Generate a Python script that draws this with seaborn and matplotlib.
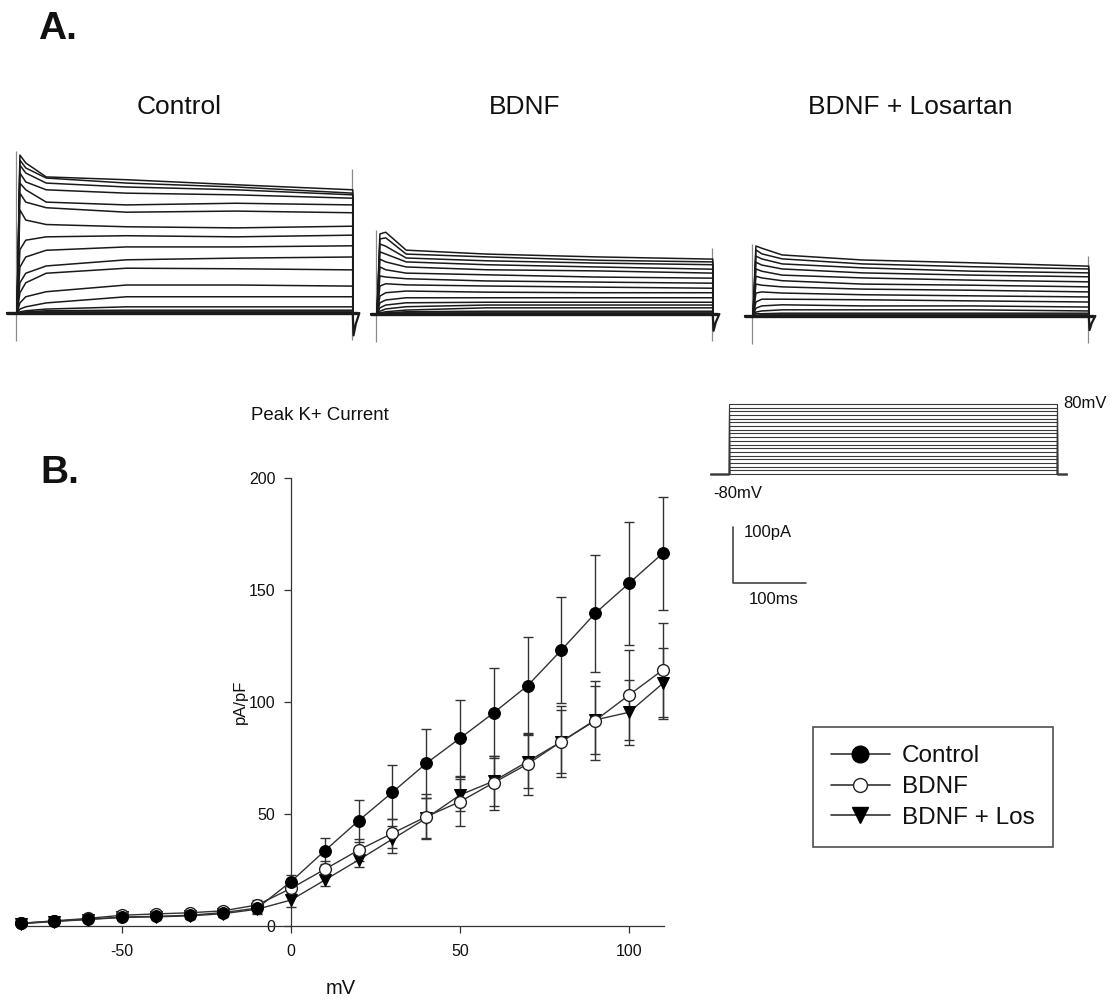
import numpy as np
import pandas as pd
import matplotlib
matplotlib.use("Agg")
import matplotlib.pyplot as plt
import seaborn as sns
from matplotlib.lines import Line2D

sns.set_theme(style="ticks")
plt.rcParams['font.family'] = ['Liberation Sans', 'DejaVu Sans']
plt.rcParams['axes.unicode_minus'] = False

# ---------------- data ----------------
mv = [-80, -70, -60, -50, -40, -30, -20, -10, 0, 10, 20, 30, 40, 50, 60, 70, 80, 90, 100, 110]
control = [1.2, 2.2, 3.0, 4.0, 4.3, 4.8, 6.0, 8.0, 19.8, 33.6, 47.0, 59.7, 72.6, 83.8, 95.2, 107.3, 123.2, 139.6, 153.0, 166.4]
control_err = [0.5, 0.5, 0.7, 0.8, 1.0, 1.2, 1.5, 2.0, 3.0, 5.8, 9.3, 12.0, 15.4, 17.0, 20.0, 21.8, 23.7, 26.0, 27.5, 25.3]
bdnf = [1.2, 2.3, 3.4, 4.8, 5.4, 5.9, 6.8, 9.4, 16.8, 25.3, 33.9, 41.4, 48.8, 55.5, 64.0, 72.3, 82.3, 91.7, 103.1, 114.3]
bdnf_err = [0.5, 0.6, 0.8, 1.0, 1.2, 1.4, 1.8, 2.2, 3.0, 3.5, 5.0, 6.5, 10.0, 11.0, 12.0, 14.0, 16.0, 17.5, 20.0, 21.0]
los = [1.0, 2.0, 2.9, 3.8, 4.1, 4.5, 5.5, 7.5, 11.6, 20.5, 29.5, 38.8, 48.1, 58.5, 64.7, 73.4, 82.3, 92.0, 95.4, 108.3]
los_err = [0.4, 0.5, 0.6, 0.8, 1.0, 1.2, 1.5, 2.0, 3.0, 2.5, 3.0, 6.0, 9.0, 7.0, 11.0, 12.0, 14.0, 15.0, 14.6, 15.7]
labels = ["Control", "BDNF", "BDNF + Los"]

# current traces (pA) sampled at these times (ms); one row per voltage step, largest first
trace_t = [0, 4, 12, 40, 150, 300, 460]
control_traces = [
    [0, 282, 268, 243, 238, 229, 220],
    [0, 273, 259, 241, 232, 225, 214],
    [0, 264, 250, 232, 225, 220, 211],
    [0, 250, 234, 220, 214, 211, 205],
    [0, 232, 220, 198, 193, 196, 193],
    [0, 214, 198, 188, 180, 182, 179],
    [0, 184, 166, 158, 154, 152, 155],
    [0, 113, 130, 136, 138, 136, 139],
    [0, 82, 100, 112, 118, 118, 120],
    [0, 54, 71, 84, 95, 98, 100],
    [0, 36, 54, 71, 80, 79, 77],
    [0, 18, 29, 38, 50, 50, 48],
    [0, 7, 11, 18, 29, 29, 29],
    [0, 2, 4, 7, 11, 11, 11],
    [0, 0, 2, 4, 5, 5, 5],
    [0, 0, 1, 2, 2, 2, 2],
    [0, 0, 0, 1, 1, 1, 1],
    [0, 0, 0, 0, 0, 0, 0],
    [0, 0, 0, -1, -1, -1, -1],
    [0, 0, 0, -1, -1, -1, -1],
]
bdnf_traces = [
    [0, 143, 146, 114, 107, 102, 98],
    [0, 134, 136, 107, 102, 96, 93],
    [0, 125, 121, 100, 95, 91, 88],
    [0, 111, 107, 93, 88, 84, 80],
    [0, 98, 93, 84, 79, 77, 73],
    [0, 84, 79, 73, 70, 66, 64],
    [0, 68, 66, 63, 59, 57, 55],
    [0, 50, 54, 52, 50, 48, 46],
    [0, 32, 38, 41, 39, 38, 38],
    [0, 20, 25, 29, 29, 29, 29],
    [0, 11, 16, 20, 21, 21, 21],
    [0, 5, 9, 13, 16, 16, 16],
    [0, 2, 4, 7, 11, 11, 11],
    [0, 0, 2, 4, 5, 5, 5],
    [0, 0, 1, 2, 2, 2, 2],
    [0, 0, 0, 1, 1, 1, 1],
    [0, 0, 0, 0, 0, 0, 0],
    [0, 0, 0, 0, 0, 0, 0],
    [0, 0, 0, -1, -1, -1, -1],
    [0, 0, 0, -1, -1, -1, -1],
]
los_traces = [
    [0, 125, 121, 109, 100, 95, 89],
    [0, 118, 111, 102, 93, 88, 84],
    [0, 107, 102, 93, 86, 80, 77],
    [0, 96, 91, 84, 77, 73, 70],
    [0, 84, 80, 73, 68, 64, 61],
    [0, 71, 68, 63, 57, 55, 52],
    [0, 57, 55, 52, 48, 46, 43],
    [0, 41, 43, 41, 38, 36, 34],
    [0, 25, 30, 30, 29, 27, 25],
    [0, 14, 18, 20, 18, 18, 16],
    [0, 7, 9, 11, 11, 11, 9],
    [0, 4, 4, 5, 5, 5, 5],
    [0, 1, 2, 2, 2, 2, 2],
    [0, 0, 1, 1, 1, 1, 1],
    [0, 0, 0, 0, 0, 0, 0],
    [0, 0, 0, 0, 0, 0, 0],
    [0, 0, 0, 0, 0, 0, 0],
    [0, 0, 0, -1, -1, -1, -1],
    [0, 0, 0, -1, -1, -1, -1],
    [0, 0, 0, -1, -1, -1, -1],
]
panel_titles = ["Control", "BDNF", "BDNF + Losartan"]

# voltage protocol
pulse_ms = 450
hold_mv = -80

# scale bar (ms, pA)
scale_t = [0, 0, 100]
scale_i = [100, 0, 0]

# ---------------- figure ----------------
W, H = 1113, 1000
fig = plt.figure(figsize=(W / 100, H / 100), dpi=100)

def px_axes(left, top, width, height):
    ax = fig.add_axes([left / W, 1 - (top + height) / H, width / W, height / H])
    return ax

def ftext(x, y, s, **kw):
    fig.text(x / W, 1 - y / H, s, **kw)

TRACE_COL = "#1a1a1a"
PX_MS = 0.73   # pixels per ms
PX_PA = 0.56   # pixels per pA

def trace_panel(x0, y0, traces, base_start, lead_top, tail_depth):
    xl, xr = -20, 472
    yb, yt = -70, 300
    ax = px_axes(x0 + xl * PX_MS, y0 - yt * PX_PA, (xr - xl) * PX_MS, (yt - yb) * PX_PA)
    rows = []
    for k, tr in enumerate(traces):
        tt = [base_start] + trace_t + [trace_t[-1] + 0.5, 466]
        ii = [0] + list(tr) + [0, 0]
        for a, b in zip(tt, ii):
            rows.append((k, a, b))
    df = pd.DataFrame(rows, columns=["trace", "t", "I"])
    ax.vlines([-1.0], [-50], [lead_top], color="#8a8a8a", lw=0.9)
    ax.vlines([trace_t[-1] - 1], [-48], [max(r[-1] for r in traces) * 1.15 + 5], color="#8a8a8a", lw=0.9)
    sns.lineplot(data=df, x="t", y="I", units="trace", estimator=None, sort=False,
                 color=TRACE_COL, lw=1.1, ax=ax, legend=False)
    tail = pd.DataFrame({"t": [trace_t[-1], trace_t[-1] + 1, trace_t[-1] + 4, trace_t[-1] + 9],
                         "I": [0, -tail_depth, -tail_depth * 0.5, 0]})
    sns.lineplot(data=tail, x="t", y="I", sort=False, estimator=None, color=TRACE_COL, lw=1.6, ax=ax)
    ax.plot([base_start, 466], [0, 0], color=TRACE_COL, lw=2.4)
    ax.set_xlim(xl, xr)
    ax.set_ylim(yb, yt)
    ax.axis("off")
    return ax

trace_panel(17, 313, control_traces, -14, 290, 40)
trace_panel(377, 314, bdnf_traces, -8, 150, 30)
trace_panel(753, 316, los_traces, -11, 128, 25)

for cx, t in zip([179.5, 525, 910], panel_titles):
    ftext(cx, 107, t, ha="center", va="center", fontsize=19, color="#111")

ftext(38, 29, "A.", ha="left", va="center", fontsize=28, fontweight="bold", color="#111")
ftext(40, 473, "B.", ha="left", va="center", fontsize=28, fontweight="bold", color="#111")
ftext(251, 416, "Peak K+ Current", ha="left", va="center", fontsize=13.4, color="#111")

# ---------------- voltage protocol ----------------
px_ms_p = 328 / pulse_ms
px_mv = 70 / (mv[-1] - mv[0])
pxl, pxr = -30, 470
pyb, pyt = -90, 120
axp = px_axes(729 + pxl * px_ms_p, 404 - (pyt - mv[-1]) * px_mv, (pxr - pxl) * px_ms_p, (pyt - pyb) * px_mv)
prow = []
for k, v in enumerate(mv):
    for a, b in zip([-26, 0, 0, pulse_ms, pulse_ms, 464], [hold_mv, hold_mv, v, v, hold_mv, hold_mv]):
        prow.append((k, a, b))
pdf = pd.DataFrame(prow, columns=["step", "t", "V"])
sns.lineplot(data=pdf, x="t", y="V", units="step", estimator=None, sort=False,
             color="#3a3a3a", lw=0.8, ax=axp, legend=False)
axp.set_xlim(pxl, pxr)
axp.set_ylim(pyb, pyt)
axp.axis("off")
ftext(1063, 403, "80mV", ha="left", va="center", fontsize=12, color="#111")
ftext(713, 493, "-80mV", ha="left", va="center", fontsize=12, color="#111")

# ---------------- scale bar ----------------
axs = px_axes(733 - 10 * PX_MS, 583 - 110 * PX_PA, 120 * PX_MS, 120 * PX_PA)
sb = pd.DataFrame({"t": scale_t, "I": scale_i})
sns.lineplot(data=sb, x="t", y="I", sort=False, estimator=None, color="#444", lw=1.2, ax=axs)
axs.set_xlim(-10, 110)
axs.set_ylim(-10, 110)
axs.axis("off")
ftext(744, 533, "100pA", ha="left", va="center", fontsize=12, color="#111")
ftext(749, 600, "100ms", ha="left", va="center", fontsize=12, color="#111")

# ---------------- IV plot ----------------
x_left_px, x0_px, x100_px = 18, 291, 629
pxmv = (x100_px - x0_px) / 100
xlim = (-(x0_px - x_left_px) / pxmv, 110.5)
ax = px_axes(x_left_px, 478, (xlim[1] - xlim[0]) * pxmv, 448)

iv = pd.DataFrame({
    "mV": mv * 3,
    "pApF": control + bdnf + los,
    "err": control_err + bdnf_err + los_err,
    "group": [labels[0]] * len(mv) + [labels[1]] * len(mv) + [labels[2]] * len(mv),
})
styles = {
    labels[0]: dict(marker="o", markerfacecolor="black", markeredgecolor="black", markersize=8.5),
    labels[1]: dict(marker="o", markerfacecolor="white", markeredgecolor="#222", markersize=8.5, markeredgewidth=1.0),
    labels[2]: dict(marker="v", markerfacecolor="black", markeredgecolor="black", markersize=9),
}
LINE_COL = "#333333"
for g in [labels[2], labels[1], labels[0]]:
    sub = iv[iv["group"] == g]
    ax.errorbar(sub["mV"], sub["pApF"], yerr=sub["err"], fmt="none", ecolor=LINE_COL,
                elinewidth=1.0, capsize=3.3, capthick=1.0, clip_on=False, zorder=2)
for g in [labels[2], labels[1], labels[0]]:
    sub = iv[iv["group"] == g]
    sns.lineplot(data=sub, x="mV", y="pApF", color=LINE_COL, lw=1.0, ax=ax,
                 clip_on=False, zorder=3, **styles[g])

ax.set_xlim(*xlim)
ax.set_ylim(0, 200)
ax.spines["left"].set_position(("data", 0))
ax.spines["right"].set_visible(False)
ax.spines["top"].set_visible(False)
for s in ["left", "bottom"]:
    ax.spines[s].set_color("#333")
    ax.spines[s].set_linewidth(0.9)
ax.set_xticks([-50, 0, 50, 100])
ax.set_yticks([0, 50, 100, 150, 200])
ax.tick_params(axis="both", direction="out", length=4.8, width=0.9, color="#333",
               labelsize=11.5, labelcolor="#111")
ax.tick_params(axis="x", pad=8.5)
ax.tick_params(axis="y", pad=6.5)
ax.set_xlabel("mV", fontsize=14.5, color="#111")
ax.set_ylabel("pA/pF", fontsize=12, color="#111")
ax.xaxis.set_label_coords(0.5, -(989 - 926) / 448, transform=ax.transAxes)
ax.xaxis.label.set_va("center")
ax.yaxis.set_label_coords((240 - x_left_px) / ((xlim[1] - xlim[0]) * pxmv), 0.5)
ax.yaxis.label.set_va("center")

handles = [
    Line2D([], [], color=LINE_COL, lw=1.2, marker="o", markerfacecolor="black", markeredgecolor="black", markersize=12),
    Line2D([], [], color=LINE_COL, lw=1.2, marker="o", markerfacecolor="white", markeredgecolor="#222", markersize=10),
    Line2D([], [], color=LINE_COL, lw=1.2, marker="v", markerfacecolor="black", markeredgecolor="black", markersize=12),
]
leg = fig.legend(handles, labels, loc="upper left", bbox_to_anchor=(813 / W, 1 - 727 / H),
                 frameon=True, fancybox=False, fontsize=17.5, handlelength=2.4,
                 handletextpad=0.5, borderpad=0.75, labelspacing=0.36, borderaxespad=0)
leg.get_frame().set_edgecolor("#222")
leg.get_frame().set_linewidth(1.2)
for t in leg.get_texts():
    t.set_color("#111")

fig.savefig("out.png", dpi=100, facecolor="white")
